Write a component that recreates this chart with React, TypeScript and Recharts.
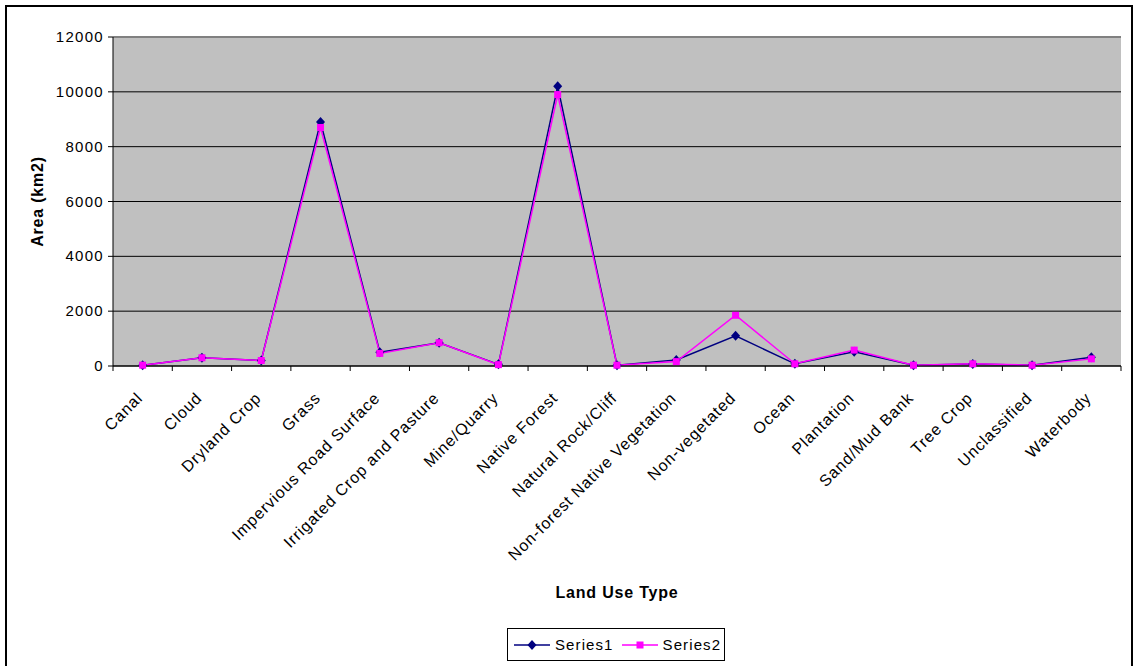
import React from 'react'
import { LineChart, Line, XAxis, YAxis, CartesianGrid, ReferenceLine } from 'recharts'

const categories = [
  'Canal',
  'Cloud',
  'Dryland Crop',
  'Grass',
  'Impervious Road Surface',
  'Irrigated Crop and Pasture',
  'Mine/Quarry',
  'Native Forest',
  'Natural Rock/Cliff',
  'Non-forest Native Vegetation',
  'Non-vegetated',
  'Ocean',
  'Plantation',
  'Sand/Mud Bank',
  'Tree Crop',
  'Unclassified',
  'Waterbody',
]
const series1 = [30, 300, 200, 8900, 500, 850, 60, 10200, 30, 220, 1100, 80, 520, 30, 70, 30, 320]
const series2 = [30, 300, 200, 8700, 460, 850, 50, 9900, 30, 160, 1850, 80, 580, 30, 80, 30, 260]
const yTicks = [0, 2000, 4000, 6000, 8000, 10000, 12000]

const data = categories.map((name, i) => ({ name, s1: series1[i], s2: series2[i] }))

const W = 1133
const H = 666
const LEFT = 113
const RIGHT = 12
const band = (W - LEFT - RIGHT) / categories.length
const FONT = 'Arial, "Liberation Sans", sans-serif'

function CategoryTick(props: any) {
  const { x, y, payload, index } = props
  const left = x - band / 2
  return (
    <g>
      <line x1={left} x2={left} y1={y - 5} y2={y} stroke="#000" />
      {index === categories.length - 1 && (
        <line x1={x + band / 2} x2={x + band / 2} y1={y - 5} y2={y} stroke="#000" />
      )}
      <text
        transform={`translate(${x + 1},${y + 28}) rotate(-45)`}
        textAnchor="end"
        fontSize={16}
        letterSpacing={0.9}
        fontFamily={FONT}
        fill="#000"
      >
        {payload.value}
      </text>
    </g>
  )
}

function YTick(props: any) {
  const { x, y, payload } = props
  return (
    <text x={x} y={y + 5} textAnchor="end" fontSize={15} letterSpacing={1.3} fontFamily={FONT} fill="#000">
      {payload.value}
    </text>
  )
}

function Diamond(props: any) {
  const { cx, cy } = props
  if (cx == null || cy == null) return <g />
  return <polygon points={`${cx},${cy - 5} ${cx + 4.5},${cy} ${cx},${cy + 5} ${cx - 4.5},${cy}`} fill="#000080" />
}

function Square(props: any) {
  const { cx, cy } = props
  if (cx == null || cy == null) return <g />
  return <rect x={cx - 3.5} y={cy - 3.5} width={7} height={7} fill="#ff00ff" />
}

function YTitle(props: any) {
  const { viewBox } = props
  const cy = viewBox.y + viewBox.height / 2
  return (
    <text
      transform={`translate(43,${cy}) rotate(-90)`}
      textAnchor="middle"
      fontSize={16}
      fontWeight="bold"
      letterSpacing={0.8}
      fontFamily={FONT}
      fill="#000"
    >
      Area (km2)
    </text>
  )
}

function XTitle(props: any) {
  const { viewBox } = props
  const cx = viewBox.x + viewBox.width / 2
  return (
    <text x={cx} y={598} textAnchor="middle" fontSize={16} fontWeight="bold" letterSpacing={0.8} fontFamily={FONT} fill="#000">
      Land Use Type
    </text>
  )
}

function LegendBox() {
  const item = (label: string, color: string, square: boolean) => (
    <div style={{ display: 'flex', alignItems: 'center' }}>
      <svg width={36} height={12}>
        <line x1={0} x2={36} y1={6} y2={6} stroke={color} strokeWidth={1.5} />
        {square ? (
          <rect x={14.5} y={2.5} width={7} height={7} fill={color} />
        ) : (
          <polygon points="18,1 22.5,6 18,11 13.5,6" fill={color} />
        )}
      </svg>
      <span style={{ marginLeft: 5, marginRight: 8, letterSpacing: 1.1 }}>{label}</span>
    </div>
  )
  return (
    <div
      style={{
        position: 'absolute',
        left: 507,
        top: 628,
        width: 218,
        height: 33,
        boxSizing: 'border-box',
        border: '1px solid #000',
        background: '#fff',
        display: 'flex',
        alignItems: 'center',
        paddingLeft: 6,
        fontFamily: FONT,
        fontSize: 15,
      }}
    >
      {item('Series1', '#000080', false)}
      {item('Series2', '#ff00ff', true)}
    </div>
  )
}

export default function App() {
  return (
    <div style={{ position: 'absolute', left: 0, top: 0, width: W, height: H, background: '#fff', overflow: 'hidden' }}>
      <div
        style={{
          position: 'absolute',
          left: 5,
          top: 5,
          width: W - 5,
          height: H + 10,
          boxSizing: 'border-box',
          border: '2px solid #000',
        }}
      />
      <div style={{ position: 'absolute', left: 0, top: 0 }}>
        <LineChart width={W} height={H} data={data} margin={{ top: 37, right: RIGHT, bottom: 0, left: 0 }}>
          <CartesianGrid vertical={false} stroke="#000" fill="#c0c0c0" fillOpacity={1} />
          <XAxis
            dataKey="name"
            height={300}
            interval={0}
            padding={{ left: band / 2, right: band / 2 }}
            axisLine={{ stroke: '#000' }}
            tickLine={false}
            tickSize={5}
            tickMargin={0}
            tick={<CategoryTick />}
            label={<XTitle />}
          />
          <YAxis
            width={LEFT}
            domain={[0, 12000]}
            ticks={yTicks}
            interval={0}
            axisLine={{ stroke: '#000' }}
            tickLine={{ stroke: '#000' }}
            tickSize={5}
            tickMargin={4}
            tick={<YTick />}
            label={<YTitle />}
          />
          <YAxis yAxisId="edge" orientation="right" width={0} tick={false} tickLine={false} axisLine={{ stroke: '#808080', strokeWidth: 2 }} />
          <ReferenceLine y={12000} stroke="#808080" strokeWidth={2} />
          <Line dataKey="s1" name="Series1" stroke="#000080" strokeWidth={1.5} dot={<Diamond />} activeDot={false} isAnimationActive={false} />
          <Line dataKey="s2" name="Series2" stroke="#ff00ff" strokeWidth={1.5} dot={<Square />} activeDot={false} isAnimationActive={false} />
        </LineChart>
      </div>
      <LegendBox />
    </div>
  )
}
